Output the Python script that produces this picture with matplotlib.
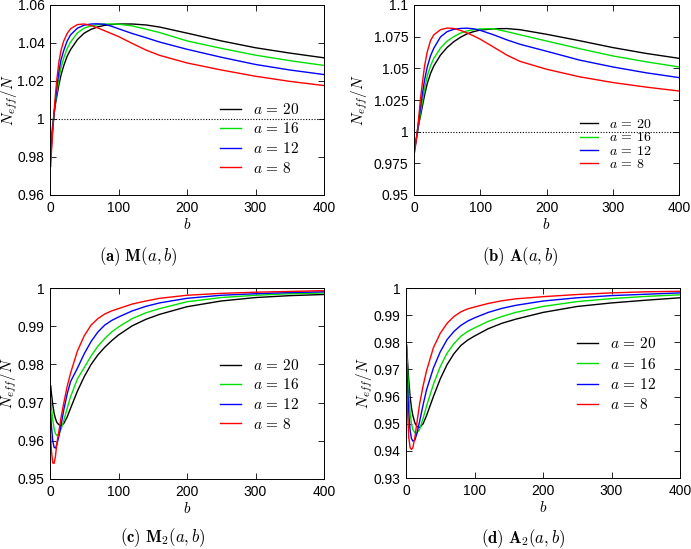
import numpy as np
import matplotlib
matplotlib.use("Agg")
import matplotlib.pyplot as plt

plt.rcParams['mathtext.fontset'] = 'cm'
plt.rcParams['font.family'] = ['Liberation Sans', 'DejaVu Sans']

b_vals = [1, 2, 4, 6, 8, 10, 13, 16, 20, 25, 30, 40, 50, 60, 70, 80, 90, 100,
          120, 140, 160, 200, 250, 300, 350, 400]

a_labels = ['$a\\,=\\,20$', '$a\\,=\\,16$', '$a\\,=\\,12$', '$a\\,=\\,8$']
colors = ['black', '#00e000', '#0000ff', '#ff0000']

# (a) M(a,b)
m_a20 = [0.985, 0.989, 0.997, 1.003, 1.008, 1.012, 1.018, 1.023, 1.028, 1.033, 1.0365, 1.0418, 1.0452,
         1.0472, 1.0485, 1.0493, 1.0497, 1.0500, 1.0500, 1.0495, 1.0484, 1.0452, 1.0411, 1.0375, 1.0347, 1.0322]
m_a16 = [0.982, 0.987, 0.996, 1.003, 1.009, 1.014, 1.021, 1.027, 1.032, 1.037, 1.0405, 1.0453, 1.0478,
         1.0490, 1.0497, 1.0500, 1.0500, 1.0499, 1.0490, 1.0473, 1.0455, 1.0411, 1.0372, 1.0336, 1.0307, 1.0282]
m_a12 = [0.979, 0.985, 0.995, 1.003, 1.010, 1.017, 1.025, 1.031, 1.036, 1.041, 1.0443, 1.0478, 1.0494,
         1.0500, 1.0501, 1.0498, 1.0488, 1.0475, 1.0450, 1.0428, 1.0405, 1.0367, 1.0325, 1.0287, 1.0258, 1.0234]
m_a8 = [0.975, 0.982, 0.994, 1.004, 1.013, 1.021, 1.030, 1.036, 1.041, 1.045, 1.0475, 1.0497, 1.0500,
        1.0492, 1.0479, 1.0464, 1.0449, 1.0434, 1.0398, 1.0363, 1.0335, 1.0295, 1.0258, 1.0225, 1.0198, 1.0176]

# (b) A(a,b)
A_a20 = [0.988, 0.990, 0.996, 1.002, 1.008, 1.013, 1.021, 1.029, 1.038, 1.046, 1.052, 1.0605, 1.0665,
         1.0710, 1.0745, 1.0772, 1.0790, 1.0802, 1.0812, 1.0814, 1.0805, 1.0769, 1.0718, 1.0664, 1.0618, 1.0579]
A_a16 = [0.987, 0.990, 0.996, 1.003, 1.009, 1.016, 1.025, 1.034, 1.044, 1.052, 1.058, 1.066, 1.0715,
         1.0750, 1.0778, 1.0795, 1.0805, 1.0811, 1.0813, 1.0790, 1.0765, 1.0716, 1.0655, 1.0598, 1.0552, 1.0511]
A_a12 = [0.986, 0.989, 0.996, 1.004, 1.012, 1.020, 1.031, 1.041, 1.051, 1.060, 1.066, 1.0748, 1.0790,
         1.0808, 1.0815, 1.0817, 1.0812, 1.0800, 1.0765, 1.0725, 1.0690, 1.0635, 1.0565, 1.0511, 1.0465, 1.0427]
A_a8 = [0.984, 0.988, 0.996, 1.005, 1.016, 1.027, 1.040, 1.052, 1.063, 1.072, 1.0765, 1.0805, 1.0818,
        1.0815, 1.0800, 1.0780, 1.0756, 1.0730, 1.0668, 1.0605, 1.0555, 1.0493, 1.0433, 1.0388, 1.0352, 1.0321]

# (c) M2(a,b)
m2_a20 = [0.9744, 0.9725, 0.9695, 0.9672, 0.9658, 0.9648, 0.9642, 0.9640, 0.9645, 0.9662, 0.9685, 0.9730, 0.9768,
          0.9800, 0.9825, 0.9845, 0.9862, 0.9877, 0.9901, 0.9918, 0.9931, 0.9951, 0.9966, 0.9975, 0.9980, 0.9983]
m2_a16 = [0.9712, 0.9690, 0.9655, 0.9632, 0.9619, 0.9614, 0.9617, 0.9630, 0.9652, 0.9685, 0.9715, 0.9762, 0.9792,
          0.9822, 0.9848, 0.9868, 0.9885, 0.9898, 0.9920, 0.9935, 0.9946, 0.9964, 0.9975, 0.9981, 0.9985, 0.9987]
m2_a12 = [0.9670, 0.9640, 0.9600, 0.9583, 0.9581, 0.9590, 0.9612, 0.9640, 0.9680, 0.9722, 0.9755, 0.9790, 0.9828,
          0.9860, 0.9885, 0.9903, 0.9915, 0.9924, 0.9940, 0.9952, 0.9961, 0.9973, 0.9981, 0.9985, 0.9988, 0.9990]
m2_a8 = [0.9611, 0.9575, 0.9542, 0.9541, 0.9560, 0.9593, 0.9625, 0.9660, 0.9698, 0.9742, 0.9777, 0.9835, 0.9875,
         0.9903, 0.9920, 0.9932, 0.9940, 0.9946, 0.9958, 0.9966, 0.9973, 0.9981, 0.9986, 0.9989, 0.9991, 0.9993]

# (d) A2(a,b)
A2_a20 = [0.9790, 0.9740, 0.9660, 0.9600, 0.9558, 0.9530, 0.9503, 0.9490, 0.9486, 0.9500, 0.9530, 0.9600, 0.9665,
          0.9718, 0.9758, 0.9788, 0.9808, 0.9823, 0.9850, 0.9870, 0.9885, 0.9910, 0.9932, 0.9945, 0.9955, 0.9964]
A2_a16 = [0.9770, 0.9710, 0.9610, 0.9540, 0.9500, 0.9478, 0.9467, 0.9466, 0.9480, 0.9520, 0.9565, 0.9645, 0.9710,
          0.9760, 0.9795, 0.9822, 0.9840, 0.9853, 0.9877, 0.9895, 0.9910, 0.9932, 0.9950, 0.9961, 0.9969, 0.9975]
A2_a12 = [0.9720, 0.9650, 0.9540, 0.9475, 0.9445, 0.9436, 0.9440, 0.9465, 0.9510, 0.9570, 0.9625, 0.9705, 0.9765,
          0.9810, 0.9840, 0.9862, 0.9878, 0.9890, 0.9910, 0.9925, 0.9936, 0.9952, 0.9964, 0.9972, 0.9977, 0.9982]
A2_a8 = [0.9650, 0.9560, 0.9450, 0.9412, 0.9405, 0.9412, 0.9450, 0.9505, 0.9575, 0.9640, 0.9695, 0.9780, 0.9833,
         0.9870, 0.9895, 0.9912, 0.9923, 0.9930, 0.9943, 0.9953, 0.9960, 0.9968, 0.9976, 0.9982, 0.9986, 0.9988]

x_ticks = [0, 100, 200, 300, 400]
yt_a = [0.96, 0.98, 1.0, 1.02, 1.04, 1.06]
yl_a = ['0.96', '0.98', '1', '1.02', '1.04', '1.06']
yt_b = [0.95, 0.975, 1.0, 1.025, 1.05, 1.075, 1.1]
yl_b = ['0.95', '0.975', '1', '1.025', '1.05', '1.075', '1.1']
yt_c = [0.95, 0.96, 0.97, 0.98, 0.99, 1.0]
yl_c = ['0.95', '0.96', '0.97', '0.98', '0.99', '1']
yt_d = [0.93, 0.94, 0.95, 0.96, 0.97, 0.98, 0.99, 1.0]
yl_d = ['0.93', '0.94', '0.95', '0.96', '0.97', '0.98', '0.99', '1']

captions = [r'$\mathbf{(a)}\ \mathbf{M}(a,b)$', r'$\mathbf{(b)}\ \mathbf{A}(a,b)$',
            r'$\mathbf{(c)}\ \mathbf{M}_{\mathbf{2}}(a,b)$', r'$\mathbf{(d)}\ \mathbf{A}_{\mathbf{2}}(a,b)$']

W, H = 691, 549
fig = plt.figure(figsize=(W / 100, H / 100), dpi=100)


def px_axes(l, t, r, b):
    return fig.add_axes([l / W, 1 - b / H, (r - l) / W, (b - t) / H])


def panel(ax, series, yt, yl, ylab_x, leg_xy, leg_fs, leg_sp, cap, cap_xy):
    for ys, c, lab in zip(series, colors, a_labels):
        ax.plot(b_vals, ys, color=c, lw=1.0, label=lab)
    ax.axhline(1.0, color='black', lw=0.8, ls=(0, (1, 1.5)))
    ax.set_xlim(0, 400)
    ax.set_ylim(yt[0], yt[-1])
    ax.set_xticks(x_ticks)
    ax.set_yticks(yt)
    ax.set_yticklabels(yl)
    ax.tick_params(direction='in', top=True, right=True, length=4, width=0.6, labelsize=10, pad=4)
    for s in ax.spines.values():
        s.set_linewidth(0.7)
    ax.set_xlabel('$b$', fontsize=11, labelpad=2)
    ax.set_ylabel('$N_{eff}/N$', fontsize=11, va='center')
    ax.yaxis.set_label_coords(ylab_x, 0.5)
    ax.legend(loc='upper left', bbox_to_anchor=leg_xy, frameon=False, fontsize=leg_fs,
              handlelength=1.35, handletextpad=0.8, labelspacing=leg_sp, borderpad=0, borderaxespad=0)
    fig.text(cap_xy[0] / W, 1 - cap_xy[1] / H, cap, fontsize=12, ha='center', va='center')


ax1 = px_axes(50, 5, 324, 195)
panel(ax1, [m_a20, m_a16, m_a12, m_a8], yt_a, yl_a, -0.148, (0.62, 0.49), 11, 0.3, captions[0], (138, 257))

ax2 = px_axes(414, 5, 679, 195)
panel(ax2, [A_a20, A_a16, A_a12, A_a8], yt_b, yl_b, -0.205, (0.625, 0.41), 10, -0.05, captions[1], (520, 257))

ax3 = px_axes(50, 288, 324, 479)
panel(ax3, [m2_a20, m2_a16, m2_a12, m2_a8], yt_c, yl_c, -0.15, (0.62, 0.634), 11, 0.3, captions[2], (163, 538))

ax4 = px_axes(406, 288, 680, 478)
panel(ax4, [A2_a20, A2_a16, A2_a12, A2_a8], yt_d, yl_d, -0.15, (0.625, 0.746), 11, 0.35, captions[3], (523, 539))

fig.savefig('out.png', dpi=100)
